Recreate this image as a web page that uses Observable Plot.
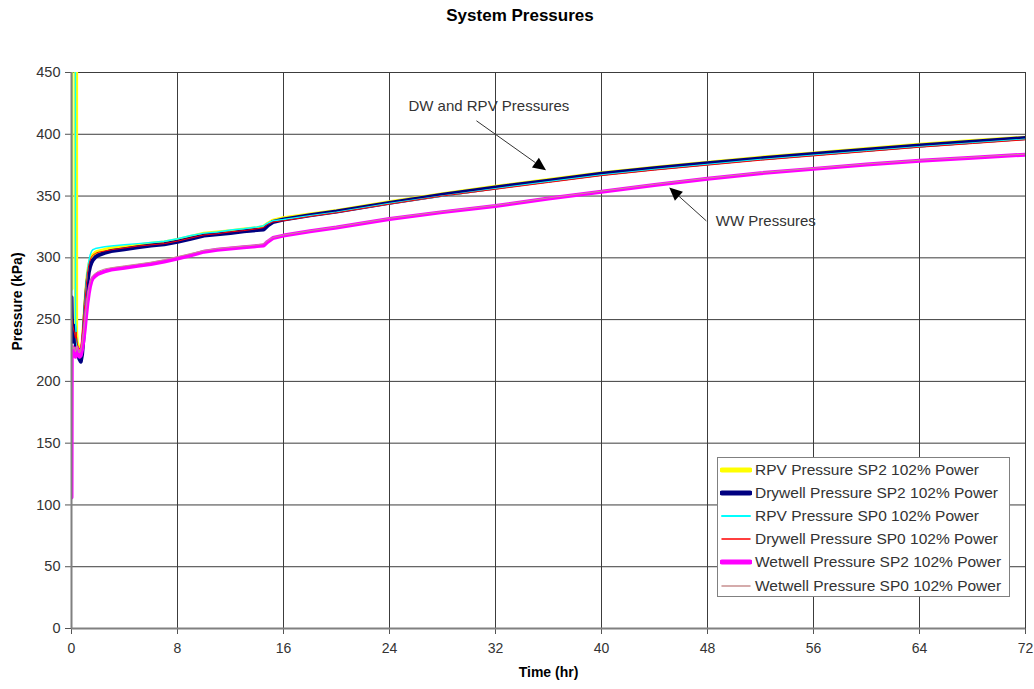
<!DOCTYPE html>
<html>
<head>
<meta charset="utf-8">
<script src="https://cdn.jsdelivr.net/npm/d3@7"></script>
<script src="https://cdn.jsdelivr.net/npm/@observablehq/plot@0.6"></script>
<style>
  body { margin: 0; background: #fff; font-family: "Liberation Sans", Arial, sans-serif; }
  #wrap { position: relative; width: 1034px; height: 689px; overflow: hidden; }
  #title { position: absolute; top: 6px; left: 0; width: 1040px; text-align: center; font-weight: bold; font-size: 17px; color: #000; }
  #legend { position: absolute; left: 717px; top: 457px; width: 293px; height: 140px; border: 1px solid #808080; background: #fff; box-sizing: border-box; padding-top: 0px; }
  .row { display: flex; align-items: center; height: 23.2px; font-size: 15.5px; color: #333; white-space: nowrap; }
  .row svg { margin-left: 2px; margin-right: 3px; }
</style>
</head>
<body>
<div id="wrap">
  <div id="chart"></div>
  <div id="title">System Pressures</div>
  <div id="legend"></div>
</div>
<script>
// ---- data (hours, kPa) ----
const timeHr = [0, 0.02, 0.05, 0.1, 0.2, 0.3, 0.35, 0.4, 0.5, 0.6, 0.7, 0.8, 0.9, 1.0, 1.1, 1.2, 1.3, 1.4, 1.5, 1.6, 1.8, 2, 2.5, 3, 4, 5, 6, 7, 8, 9, 10, 11, 12, 13, 14, 14.5, 14.8, 15.2, 16, 18, 20, 24, 28, 32, 36, 40, 44, 48, 52, 56, 60, 64, 68, 72];

const rpvSP2 = [275, 7000, 7000, 7000, 7000, 7000, 240, 232, 228, 224, 222, 226, 240, 256, 272, 284, 292, 297, 300, 302, 304, 305, 306.5, 307.5, 308.5, 310, 311.5, 312.5, 314.5, 317, 319.5, 320.5, 321.5, 323, 324, 325, 327.5, 330, 332, 335, 338, 345, 351.5, 357.5, 363, 368.5, 373, 377, 381, 384.5, 388, 391.5, 394.5, 397.3];

const dwSP2 = [268, 255, 240, 232, 245, 232, 228, 226, 222, 218, 216, 222, 235, 252, 268, 280, 288, 293, 296, 298, 300.5, 302, 304, 305.5, 307, 308.5, 310, 311, 313, 315.5, 318, 319, 320, 321.5, 322.5, 323, 326, 329, 331, 334.5, 337.5, 344.5, 351, 357, 362.5, 368, 372.5, 376.5, 380.5, 384, 387.5, 391, 394, 397];

const rpvSP0 = [270, 7000, 7000, 7000, 7000, 250, 238, 230, 226, 224, 224, 230, 245, 262, 278, 289, 297, 302, 305, 306.5, 307.5, 308, 309, 309.5, 310.5, 311.5, 312.5, 313.5, 315.5, 318, 320, 321, 322.5, 323.5, 325, 326, 328, 330, 331, 334, 337, 344, 350, 356, 361.5, 367, 371.5, 375.5, 379.5, 383, 386.5, 390, 393, 396];

const dwSP0 = [280, 252, 250, 245, 240, 235, 240, 232, 228, 226, 228, 236, 248, 262, 276, 287, 294, 298, 300.5, 302, 303.5, 304.5, 305.5, 306.5, 308, 309.5, 310.5, 311.5, 313.5, 316, 318.5, 319.5, 321, 322, 323.5, 324.5, 327, 329, 330, 333.5, 336.5, 343.5, 350, 355.5, 361, 366.5, 371, 375, 379, 382.5, 386, 389.5, 392.5, 395.5];

const wwSP2 = [106, 225, 228, 222, 226, 220, 224, 227, 222, 220, 221, 226, 233, 242, 253, 263, 271, 277, 281, 283.5, 285.5, 287, 289, 290.5, 292, 293.5, 295, 297, 299.5, 302, 305, 306.5, 307.5, 308.5, 309.5, 310, 313, 316, 318, 321.5, 324.5, 331.5, 337, 342, 348, 353.5, 359, 364, 368.5, 372, 375.5, 378.5, 381, 383.5];

const wwSP0 = [112, 228, 230, 226, 228, 224, 226, 229, 225, 223, 225, 231, 239, 249, 259, 268, 275, 280, 283.5, 285.5, 287.5, 289, 291, 292, 293.5, 295, 296.5, 298.5, 301, 303.5, 306, 307.5, 308.5, 309.5, 310.5, 311.5, 314, 316.5, 318.5, 322, 325, 332, 337.5, 342.5, 348.5, 354, 359.5, 364.5, 369, 372.5, 376, 379, 381.5, 384];

const seriesNames = ["RPV Pressure SP2 102% Power", "Drywell Pressure SP2 102% Power", "RPV Pressure SP0 102% Power", "Drywell Pressure SP0 102% Power", "Wetwell Pressure SP2 102% Power", "Wetwell Pressure SP0 102% Power"];
const seriesValues = [rpvSP2, dwSP2, rpvSP0, dwSP0, wwSP2, wwSP0];
const seriesColors = ["#ffff00", "#000080", "#00ffff", "#ff0000", "#ff00ff", "#c89090"];
const seriesWidths = [4, 4, 1.5, 1, 4, 1];

const xTicks = [0, 8, 16, 24, 32, 40, 48, 56, 64, 72];
const yTicks = [0, 50, 100, 150, 200, 250, 300, 350, 400, 450];

const annotTexts = [
  {t: 31.5, p: 422.5, label: "DW and RPV Pressures"},
  {t: 52.4, p: 329.5, label: "WW Pressures"}
];
const annotArrows = [
  {t1: 30.6, p1: 410.5, t2: 35.85, p2: 370.5},
  {t1: 47.95, p1: 329.5, t2: 45.15, p2: 356.5}
];

// ---- build ----
const lineMarks = seriesValues.map((vals, i) =>
  Plot.line(timeHr.map((t, j) => ({t, p: vals[j]})), {
    x: "t", y: "p", stroke: seriesColors[i], strokeWidth: seriesWidths[i],
    strokeLinejoin: "round", clip: true
  })
);

const arrowMark = (index, {x, y}) => {
  const g = d3.create("svg:g");
  for (const a of annotArrows) {
    const X1 = x(a.t1), Y1 = y(a.p1), X2 = x(a.t2), Y2 = y(a.p2);
    const ang = Math.atan2(Y2 - Y1, X2 - X1), L = 13, W = 6;
    const bx = X2 - L * Math.cos(ang), by = Y2 - L * Math.sin(ang);
    g.append("line").attr("x1", X1).attr("y1", Y1).attr("x2", bx).attr("y2", by)
      .attr("stroke", "#333").attr("stroke-width", 1);
    g.append("polygon")
      .attr("points", `${X2},${Y2} ${bx + W * Math.sin(ang)},${by - W * Math.cos(ang)} ${bx - W * Math.sin(ang)},${by + W * Math.cos(ang)}`)
      .attr("fill", "#000");
  }
  return g.node();
};

const chart = Plot.plot({
  width: 1034,
  height: 689,
  marginLeft: 71,
  marginRight: 9,
  marginTop: 72,
  marginBottom: 61,
  style: {fontFamily: "'Liberation Sans', Arial, sans-serif", color: "#333", background: "#fff"},
  x: {domain: [0, 72]},
  y: {domain: [0, 450]},
  marks: [
    Plot.gridX(xTicks, {stroke: "#3c3c3c", strokeOpacity: 1, strokeWidth: 1}),
    Plot.gridY(yTicks, {stroke: "#3c3c3c", strokeOpacity: 1, strokeWidth: 1}),
    Plot.axisX(xTicks, {tickSize: 6, tickPadding: 9, fontSize: 14, label: null, stroke: "#555"}),
    Plot.axisY(yTicks, {tickSize: 6, tickPadding: 5, fontSize: 14.5, label: null, stroke: "#555"}),
    ...lineMarks,
    Plot.ruleX([0], {stroke: "#808080", strokeWidth: 2}),
    Plot.ruleY([0], {stroke: "#808080", strokeWidth: 2}),
    arrowMark,
    Plot.text(annotTexts, {x: "t", y: "p", text: "label", fontSize: 15, fill: "#333"}),
    Plot.text(["Time (hr)"], {frameAnchor: "bottom", dy: 48, fontSize: 14, fontWeight: "bold", fill: "#000"}),
    Plot.text(["Pressure (kPa)"], {frameAnchor: "left", dx: -54, rotate: -90, fontSize: 14, fontWeight: "bold", fill: "#000"})
  ]
});
document.getElementById("chart").append(chart);

// ---- legend ----
const legend = document.getElementById("legend");
seriesNames.forEach((name, i) => {
  const row = document.createElement("div");
  row.className = "row";
  const w = seriesWidths[i] >= 3 ? 5 : Math.max(1.5, seriesWidths[i] + 0.5);
  row.innerHTML = `<svg width="32" height="10"><line x1="2" y1="5" x2="30" y2="5" stroke="${seriesColors[i]}" stroke-width="${w}" stroke-linecap="round"/></svg><span>${name}</span>`;
  legend.append(row);
});
</script>
</body>
</html>
